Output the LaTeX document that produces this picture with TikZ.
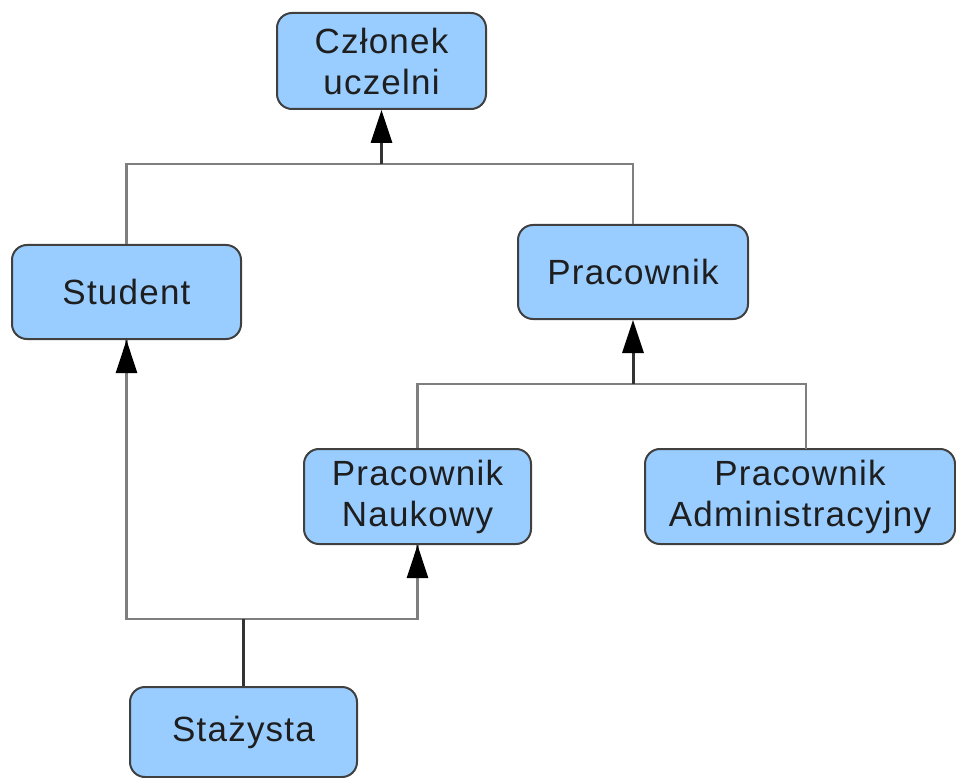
\documentclass[tikz,border=0pt]{standalone}
\usepackage{fontspec}
\setmainfont[LetterSpace=3.5]{Liberation Sans}
\usetikzlibrary{arrows.meta}
\definecolor{boxfill}{HTML}{99CCFF}
\definecolor{boxline}{HTML}{404040}
\definecolor{greyline}{HTML}{7F7F7F}
\definecolor{darkline}{HTML}{333333}
\definecolor{textcol}{HTML}{1E1E1E}
\tikzset{
  classbox/.style={draw=boxline, line width=2pt, fill=boxfill, rounded corners=15pt,
    align=center, inner sep=0pt, font=\fontsize{35}{41}\selectfont, text=textcol},
  greyconn/.style={draw=greyline, line width=2.5pt},
  darkconn/.style={draw=darkline, line width=3pt},
  tip/.style={-{Triangle[width=21pt,length=33pt,color=black]}}
}
\begin{document}
\begin{tikzpicture}[x=1pt,y=-1pt]
\useasboundingbox (0,0) rectangle (956,778);
\node[classbox, minimum width=209pt, minimum height=96pt] (C) at (381.5,61) {Członek\\uczelni};
\node[classbox, minimum width=229pt, minimum height=94pt] (S) at (126.5,292) {Student};
\node[classbox, minimum width=230pt, minimum height=94pt] (P) at (633,272) {Pracownik};
\node[classbox, minimum width=227pt, minimum height=95pt] (N) at (417.5,496.5) {Pracownik\\Naukowy};
\node[classbox, minimum width=310pt, minimum height=95pt] (A) at (800,496.5) {Pracownik\\Administracyjny};
\node[classbox, minimum width=227pt, minimum height=90pt] (T) at (243.5,732) {Stażysta};
\coordinate (cbar) at (381.5,164);
\coordinate (pbar) at (633,384);
\coordinate (tbar) at (243.5,619);
\coordinate (atop) at (806,449);
% Czlonek hierarchy
\draw[greyconn] (S.north) |- (cbar) -| (P.north);
\draw[darkconn, tip] (cbar) -- (C.south);
% Pracownik hierarchy
\draw[greyconn] (N.north) |- (pbar) -| (atop);
\draw[darkconn, tip] (pbar) -- (P.south);
% Stazysta
\draw[greyconn] (S.south) |- (tbar) -| (N.south);
\draw[greyconn, tip] (tbar -| S.south) -- (S.south);
\draw[greyconn, tip] (tbar -| N.south) -- (N.south);
\draw[darkconn] (T.north) -- (tbar);
\end{tikzpicture}
\end{document}
